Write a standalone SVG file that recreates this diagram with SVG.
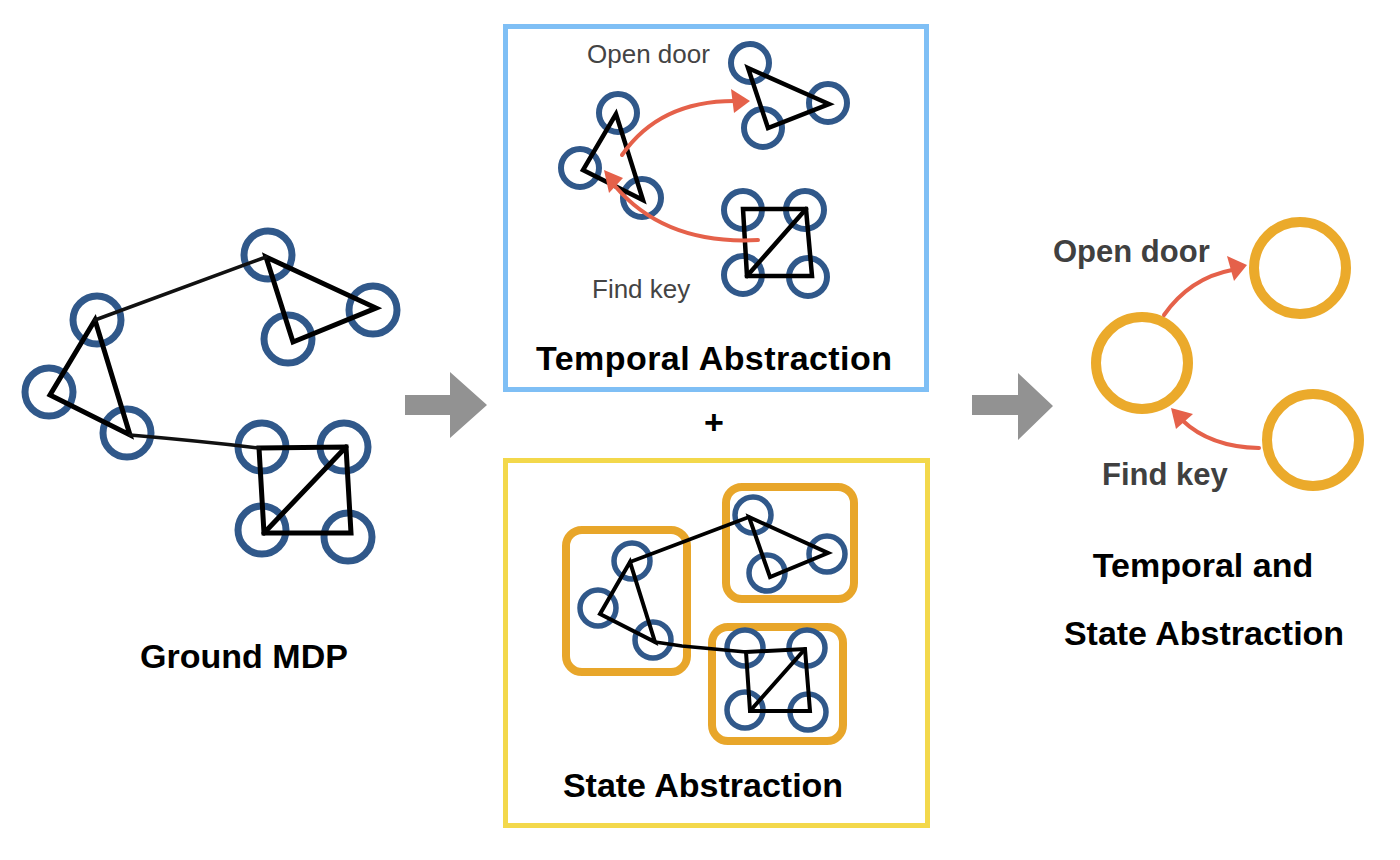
<svg xmlns="http://www.w3.org/2000/svg" width="1400" height="860" viewBox="0 0 1400 860">
<style>
.bg{fill:#ffffff}
.n1{fill:none;stroke:#30588A;stroke-width:7}
.n2{fill:none;stroke:#30588A;stroke-width:6}
.n3{fill:none;stroke:#30588A;stroke-width:5.5}
.e{fill:none;stroke:#000;stroke-linejoin:miter;stroke-linecap:round}
.rough{fill:none;stroke:#111;stroke-width:3.5;stroke-linecap:round}
.red{fill:none;stroke:#E5614A;stroke-width:4;stroke-linecap:round}
.redh{fill:#E5614A}
.agg{fill:none;stroke:#E8A62A;stroke-width:8}
.big{fill:none;stroke:#EBAA2B;stroke-width:10}
.title{font-family:"Liberation Sans",Arial,sans-serif;font-weight:bold;font-size:34px;fill:#000}
.lbl{font-family:"Liberation Sans",Arial,sans-serif;font-size:26px;fill:#444}
.lblb{font-family:"Liberation Sans",Arial,sans-serif;font-weight:bold;font-size:31px;fill:#404040}
.garrow{fill:#929292}
</style>
<rect class="bg" x="0" y="0" width="1400" height="860"/>

<!-- Ground MDP -->
<g id="ground-mdp">
  <g id="g-nodes">
    <circle id="g1" class="n1" cx="268" cy="255" r="24"/>
    <circle id="g2" class="n1" cx="373" cy="310" r="24"/>
    <circle id="g3" class="n1" cx="288" cy="339" r="24"/>
    <circle id="g4" class="n1" cx="97" cy="320" r="24"/>
    <circle id="g5" class="n1" cx="49" cy="392" r="24"/>
    <circle id="g6" class="n1" cx="127" cy="433" r="24"/>
    <circle id="g7" class="n1" cx="262" cy="447" r="24"/>
    <circle id="g8" class="n1" cx="344" cy="447" r="24"/>
    <circle id="g9" class="n1" cx="262" cy="530" r="24"/>
    <circle id="g10" class="n1" cx="348" cy="537" r="24"/>
  </g>
  <g id="g-connectors">
    <polygon class="e" stroke-width="5" points="95,320 50,395 130,435"/>
    <polygon class="e" stroke-width="5" points="266,257 376,308 293,342"/>
    <polygon class="e" stroke-width="5" points="259,448 346,447 351,533 264,533"/>
    <line class="e" stroke-width="5" x1="264" y1="533" x2="346" y2="447"/>
    <path class="rough" d="M95,320 L266,257"/>
    <path class="rough" d="M130,435 Q200,441 259,448"/>
  </g>
  <text class="title" x="244" y="668" text-anchor="middle">Ground MDP</text>
</g>

<!-- Gray arrows -->
<g id="arrow-1"><polygon class="garrow" points="405,395 450,395 450,372 487,405 450,438 450,415 405,415"/></g>
<g id="arrow-2"><polygon class="garrow" points="972,395 1018,395 1018,373 1053,406 1018,440 1018,415 972,415"/></g>

<!-- Temporal Abstraction -->
<g id="temporal-abstraction">
  <rect x="505.5" y="26.5" width="421" height="363" fill="none" stroke="#7FBFF5" stroke-width="5"/>
  <g id="t-nodes">
    <circle class="n2" cx="750" cy="63" r="19"/>
    <circle class="n2" cx="828" cy="103" r="19"/>
    <circle class="n2" cx="763" cy="128" r="19"/>
    <circle class="n2" cx="618" cy="113" r="19"/>
    <circle class="n2" cx="580" cy="168" r="19"/>
    <circle class="n2" cx="642" cy="198" r="19"/>
    <circle class="n2" cx="743" cy="210" r="19"/>
    <circle class="n2" cx="805" cy="210" r="19"/>
    <circle class="n2" cx="743" cy="275" r="19"/>
    <circle class="n2" cx="808" cy="277" r="19"/>
  </g>
  <g id="t-connectors">
    <polygon class="e" stroke-width="4.5" points="616,114 583,170 643,200"/>
    <polygon class="e" stroke-width="4.5" points="748,68 829,104 768,128"/>
    <polygon class="e" stroke-width="4.5" points="743,209 806,209 812,276 747,276"/>
    <line class="e" stroke-width="4.5" x1="747" y1="276" x2="806" y2="209"/>
    <path class="red" d="M622,155 Q660,100 737,101"/>
    <polygon class="redh" points="750,101 731,89 734,113"/>
    <path class="red" d="M758,240 Q665,245 615,186"/>
    <polygon class="redh" points="604,170 623,178 609,193"/>
  </g>
  <text class="lbl" x="587" y="63">Open door</text>
  <text class="lbl" x="592" y="298">Find key</text>
  <text class="title" x="714" y="370" text-anchor="middle" textLength="356" lengthAdjust="spacing">Temporal Abstraction</text>
</g>

<text id="plus" class="title" x="714" y="434" text-anchor="middle" font-size="30">+</text>

<!-- State Abstraction -->
<g id="state-abstraction">
  <rect x="505.5" y="460.5" width="422" height="365" fill="none" stroke="#F3D84B" stroke-width="5"/>
  <g id="s-groups">
    <rect class="agg" x="566" y="530" width="121" height="142" rx="16"/>
    <rect class="agg" x="726" y="487" width="128" height="112" rx="16"/>
    <rect class="agg" x="712" y="627" width="131" height="114" rx="16"/>
  </g>
  <g id="s-nodes">
    <circle class="n3" cx="632" cy="561" r="18"/>
    <circle class="n3" cx="598" cy="608" r="18"/>
    <circle class="n3" cx="653" cy="640" r="18"/>
    <circle class="n3" cx="753" cy="515" r="18"/>
    <circle class="n3" cx="827" cy="554" r="18"/>
    <circle class="n3" cx="767" cy="573" r="18"/>
    <circle class="n3" cx="745" cy="648" r="18"/>
    <circle class="n3" cx="807" cy="648" r="18"/>
    <circle class="n3" cx="745" cy="710" r="18"/>
    <circle class="n3" cx="808" cy="712" r="18"/>
  </g>
  <g id="s-connectors">
    <polygon class="e" stroke-width="4" points="630,562 600,614 655,642"/>
    <polygon class="e" stroke-width="4" points="749,517 828,553 770,577"/>
    <polygon class="e" stroke-width="4" points="746,652 805,649 810,711 750,711"/>
    <line class="e" stroke-width="4" x1="750" y1="711" x2="805" y2="649"/>
    <line class="e" stroke-width="3.5" x1="630" y1="562" x2="749" y2="517"/>
    <path class="e" stroke-width="3.5" d="M655,642 L682,646 L746,652"/>
  </g>
  <text class="title" x="703" y="797" text-anchor="middle">State Abstraction</text>
</g>

<!-- Temporal and State Abstraction -->
<g id="temporal-state-abstraction">
  <g id="ts-nodes">
    <circle id="ts1" class="big" cx="1300" cy="268" r="46"/>
    <circle id="ts2" class="big" cx="1142" cy="363" r="46"/>
    <circle id="ts3" class="big" cx="1313" cy="440" r="46"/>
  </g>
  <g id="ts-connectors">
    <path class="red" d="M1164,315 Q1190,278 1232,270"/>
    <polygon class="redh" points="1247,265 1227,256 1234,281"/>
    <path class="red" d="M1259,448 Q1210,447 1182,420"/>
    <polygon class="redh" points="1171,408 1193,414 1176,429"/>
  </g>
  <text class="lblb" x="1053" y="262">Open door</text>
  <text class="lblb" x="1102" y="485">Find key</text>
  <text class="title" x="1203" y="577" text-anchor="middle">Temporal and</text>
  <text class="title" x="1204" y="645" text-anchor="middle">State Abstraction</text>
</g>
</svg>
